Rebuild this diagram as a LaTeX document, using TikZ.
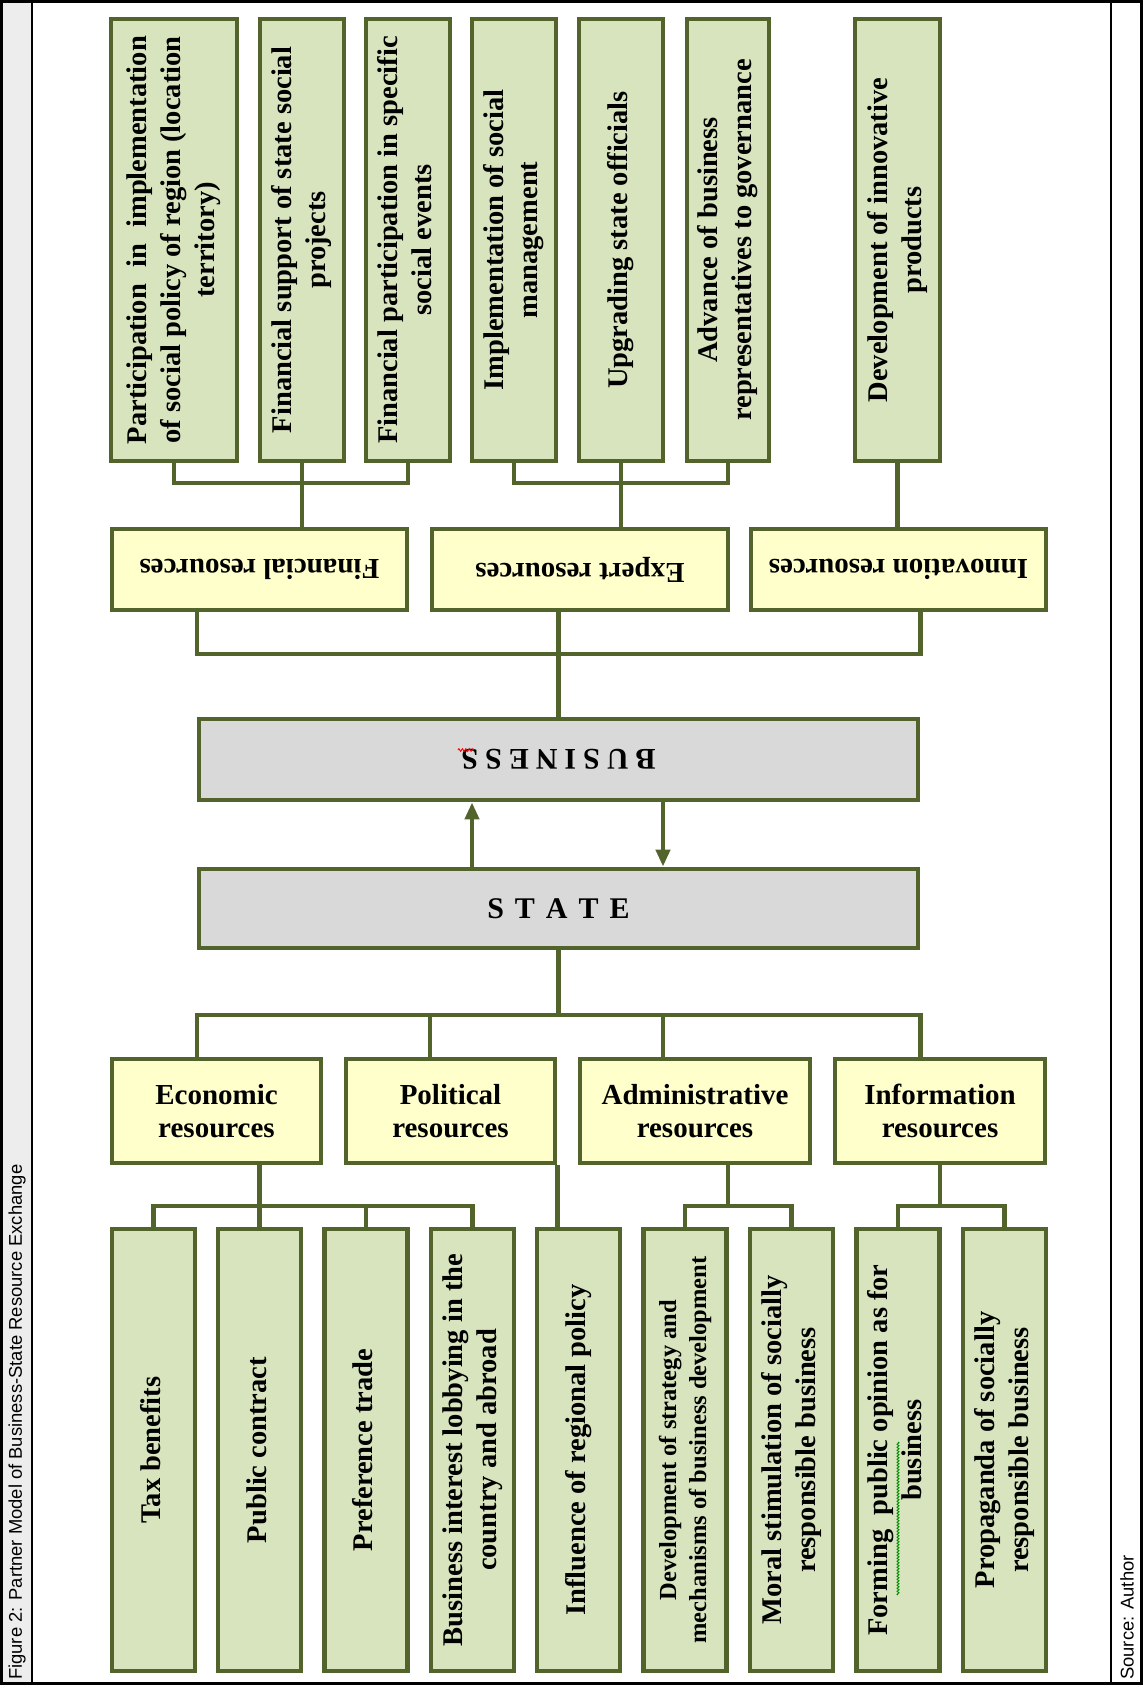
\documentclass[tikz,border=0pt]{standalone}
\usepackage{fontspec}
\setmainfont{Liberation Serif}
\newfontfamily\arialf{Liberation Sans}
\usetikzlibrary{arrows.meta,decorations.pathmorphing}
\definecolor{oliveB}{HTML}{53632C}
\definecolor{greenF}{HTML}{D7E4BD}
\definecolor{yellowF}{HTML}{FFFFCC}
\definecolor{grayF}{HTML}{D9D9D9}
\definecolor{stripF}{HTML}{EDEDED}
\newcommand\vtext[1]{\rotatebox{90}{\begin{tabular}{@{}c@{}}#1\end{tabular}}}
\tikzset{
  box/.style={draw=oliveB, line width=4.8pt, inner sep=0pt, align=center,
    font=\bfseries\fontsize{28.5}{34}\selectfont},
  gbox/.style={box, fill=greenF, minimum height=442pt},
  ybox/.style={box, fill=yellowF, font=\bfseries\fontsize{29}{33}\selectfont},
  sbox/.style={box, fill=grayF, font=\bfseries\fontsize{30}{34}\selectfont},
  conn/.style={draw=oliveB, line width=4.2pt},
  tip/.style={-{Triangle[width=14pt,length=17pt]}},
  side/.style={inner sep=0pt, rotate=90, anchor=west, font=\arialf\fontsize{18.4}{22}\selectfont}
}
\begin{document}
\begin{tikzpicture}[x=1pt,y=-1pt]
\useasboundingbox (0,0) rectangle (1143,1685);
% frame
\fill[stripF] (0,0) rectangle (32,1685);
\draw[line width=3pt] (1.5,1.5) rectangle (1141.5,1683.5);
\draw[line width=2.5pt] (32,0) -- (32,1685);
\draw[line width=2.5pt] (1111,0) -- (1111,1685);
\node[side] (cap) at (17,1680) {Figure 2: Partner Model of Business-State Resource Exchange};
\node[side] (src) at (1127,1680) {Source: Author};

% top green row
\node[gbox, minimum width=126pt] (t1) at (174,240) {\vtext{\makebox[408pt][s]{Participation in implementation}\\of social policy of region (location\\territory)}};
\node[gbox, minimum width=84pt] (t2) at (302,240) {\vtext{Financial support of state social\\projects}};
\node[gbox, minimum width=84pt] (t3) at (408,240) {\vtext{Financial participation in specific\\social events}};
\node[gbox, minimum width=84pt] (t4) at (514,240) {\vtext{Implementation of social\\management}};
\node[gbox, minimum width=84pt] (t5) at (621,240) {\vtext{Upgrading state officials}};
\node[gbox, minimum width=82pt] (t6) at (728,240) {\vtext{Advance of business\\representatives to governance}};
\node[gbox, minimum width=85pt] (t7) at (897.5,240) {\vtext{Development of innovative\\products}};

% top yellow row (upside down)
\node[ybox, minimum width=295pt, minimum height=81pt] (fin) at (259.5,569.5) {\rotatebox{180}{Financial resources}};
\node[ybox, minimum width=296pt, minimum height=81pt] (exp) at (580,569.5) {\rotatebox{180}{Expert resources}};
\node[ybox, minimum width=295pt, minimum height=81pt] (inn) at (898.5,569.5) {\rotatebox{180}{Innovation resources}};

% business / state
\node[sbox, minimum width=719pt, minimum height=81pt] (bus) at (558.5,759.5)
  {\rotatebox{180}{B\hspace{7pt}U\hspace{7pt}S\hspace{7pt}I\hspace{7pt}N\hspace{7pt}E\hspace{7pt}S\hspace{7pt}S}};
\node[sbox, minimum width=719pt, minimum height=79pt] (state) at (558.5,908.5)
  {S\hspace{11pt}T\hspace{11pt}A\hspace{11pt}T\hspace{11pt}E};

% bottom yellow row
\node[ybox, minimum width=209pt, minimum height=104pt] (eco) at (216.5,1111) {Economic\\resources};
\node[ybox, minimum width=209pt, minimum height=104pt] (pol) at (450.5,1111) {Political\\resources};
\node[ybox, minimum width=230pt, minimum height=104pt] (adm) at (695,1111) {Administrative\\resources};
\node[ybox, minimum width=210pt, minimum height=104pt] (inf) at (940,1111) {Information\\resources};

% bottom green row
\node[gbox, minimum width=83pt] (b1) at (153.5,1450) {\vtext{Tax benefits}};
\node[gbox, minimum width=83pt] (b2) at (259.5,1450) {\vtext{Public contract}};
\node[gbox, minimum width=83pt] (b3) at (366,1450) {\vtext{Preference trade}};
\node[gbox, minimum width=83pt] (b4) at (472.5,1450) {\vtext{Business interest lobbying in the\\country and abroad}};
\node[gbox, minimum width=83pt] (b5) at (578.5,1450) {\vtext{Influence of regional policy}};
\node[gbox, minimum width=83pt] (b6) at (685,1450) {\fontsize{24.5}{30}\selectfont\vtext{Development of strategy and\\mechanisms of business development}};
\node[gbox, minimum width=83pt] (b7) at (791.5,1450) {\vtext{Moral stimulation of socially\\responsible business}};
\node[gbox, minimum width=83pt] (b8) at (898,1450) {\vtext{Forming\ \ public opinion as for\\business}};
\node[gbox, minimum width=83pt] (b9) at (1004.5,1450) {\vtext{Propaganda of socially\\responsible business}};

% helper coordinates
\coordinate (yA) at (0,483);
\coordinate (yB) at (0,654);
\coordinate (yC) at (0,1015);
\coordinate (yD) at (0,1206);
\coordinate (ua) at (472,0);
\coordinate (da) at (663,0);
\coordinate (px) at (430,0);
\coordinate (ax) at (728,0);

% top connectors
\draw[conn] (t1.south) |- (t3.south |- yA) -- (t3.south);
\draw[conn] (t2.south) -- (fin.north -| t2.south);
\draw[conn] (t4.south) |- (t6.south |- yA) -- (t6.south);
\draw[conn] (t5.south) -- (exp.north -| t5.south);
\draw[conn] (t7.south) -- (inn.north -| t7.south);

% yellow to business
\draw[conn] (fin.south -| bus.north west) -- (bus.north west |- yB) -- (bus.north east |- yB) -- (inn.south -| bus.north east);
\draw[conn] (exp.south -| bus.north) -- (bus.north);

% arrows
\draw[conn, tip] (state.north -| ua) -- (bus.south -| ua);
\draw[conn, tip] (bus.south -| da) -- (state.north -| da);

% state to bottom yellow
\draw[conn] (state.south) -- (state.south |- yC);
\draw[conn] (eco.north -| state.south west) -- (state.south west |- yC) -- (state.south east |- yC) -- (inf.north -| state.south east);
\draw[conn] (px |- yC) -- (pol.north -| px);
\draw[conn] (da |- yC) -- (adm.north -| da);

% bottom connectors
\draw[conn] (eco.south -| b2.north) -- (b2.north);
\draw[conn] (b1.north) |- (b4.north |- yD) -- (b4.north);
\draw[conn] (b3.north) -- (b3.north |- yD);
\draw[conn] (pol.south east) -- (b5.north -| pol.south east);
\draw[conn] (adm.south -| ax) -- (ax |- yD);
\draw[conn] (b6.north) |- (b7.north |- yD) -- (b7.north);
\draw[conn] (inf.south) -- (inf.south |- yD);
\draw[conn] (b8.north) |- (b9.north |- yD) -- (b9.north);

% spell-check marks
\draw[red, line width=0.9pt, decorate, decoration={zigzag, amplitude=1.3pt, segment length=3.5pt}] (458,750) -- (474,750);
\draw[green!55!black, line width=0.9pt, decorate, decoration={zigzag, amplitude=1pt, segment length=3pt}] (898,1595) -- (898,1442);
\end{tikzpicture}
\end{document}
